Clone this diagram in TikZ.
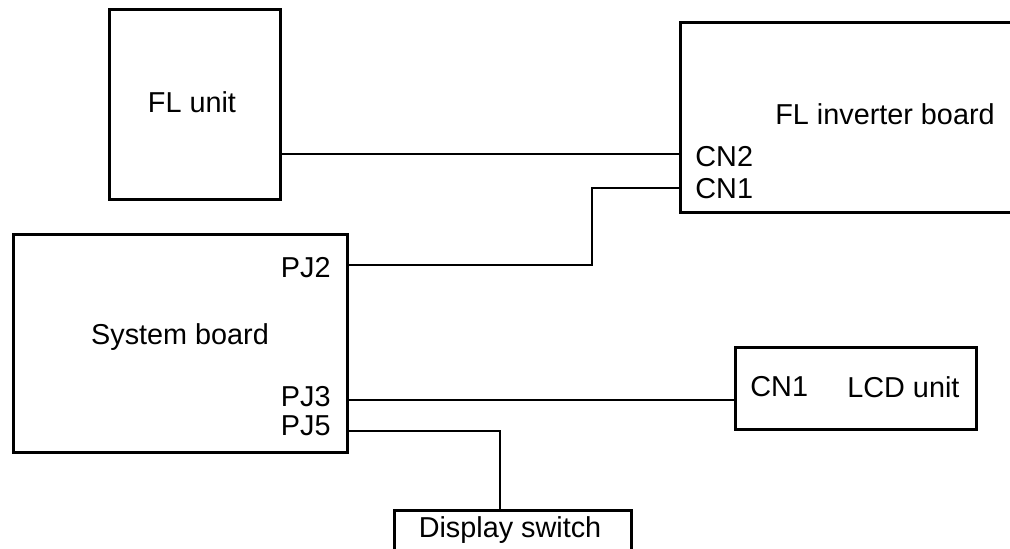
\documentclass[tikz,border=0pt]{standalone}
\usepackage{fontspec}
\setmainfont{Liberation Sans}
\usetikzlibrary{positioning}

\tikzset{
  unitbox/.style={draw, line width=1.3pt, rectangle, anchor=north west, inner sep=0pt},
  wire/.style={line width=1.2pt},
  txt/.style={font=\fontsize{14.4}{17}\selectfont, inner sep=0pt}
}

\begin{document}
\begin{tikzpicture}[x=0.5pt, y=-0.5pt]
\clip (0,0) rectangle (1010,548);
% boxes
\node[unitbox, minimum width=85.5pt, minimum height=95pt] (flunit) at (108,8) {};
\node[unitbox, minimum width=180.5pt, minimum height=95pt] (inverter) at (679,21) {};
\node[unitbox, minimum width=167pt, minimum height=109pt] (sysboard) at (12,233) {};
\node[unitbox, minimum width=120.5pt, minimum height=41pt] (lcd) at (734,346) {};
\node[unitbox, minimum width=118.5pt, minimum height=30pt] (dispsw) at (393,509) {};

% labels
\node[txt] (fltext) at (192,102) {FL unit};
\node[txt] (invtext) at (885,114) {FL inverter board};
\node[txt, anchor=west] (cntwo) at (695,157) {CN2};
\node[txt, anchor=west] (cnone) at (695,189) {CN1};
\node[txt] (systext) at (180,337) {System board};
\node[txt, anchor=east] (pjtwo) at (331,268) {PJ2};
\node[txt, anchor=east] (pjthree) at (331,397) {PJ3};
\node[txt, anchor=east] (pjfive) at (331,426) {PJ5};
\node[txt, anchor=west] (lcdcn) at (750,387) {CN1};
\node[txt, anchor=west] (lcdtext) at (847,387) {LCD unit};
\node[txt] (swtext) at (510,530) {Display switch};

% bends
\coordinate (upbend) at (592,188);
\coordinate (lowbend) at (592,265);
\coordinate (swbend) at (500,431);

% cables
\draw[wire] (flunit.east |- 0,154) -- (inverter.west |- 0,154);
\draw[wire] (inverter.west |- upbend) -- (upbend) -- (lowbend) -- (sysboard.east |- lowbend);
\draw[wire] (sysboard.east |- 0,400) -- (lcd.west |- 0,400);
\draw[wire] (sysboard.east |- swbend) -- (swbend) -- (swbend |- dispsw.north);
\end{tikzpicture}
\end{document}
